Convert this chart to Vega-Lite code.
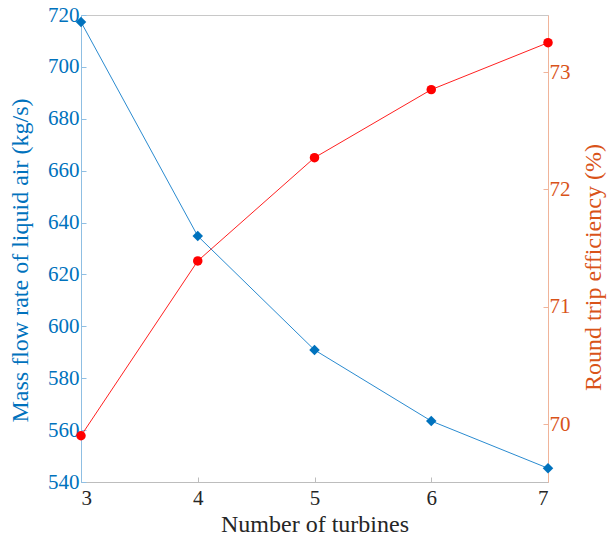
{
  "$schema": "https://vega.github.io/schema/vega-lite/v6.json",
  "width": 467,
  "height": 467,
  "autosize": "none",
  "padding": {"left": 81, "top": 15, "right": 65, "bottom": 58},
  "background": "white",
  "config": {
    "view": {"stroke": "#c8c8c8", "strokeWidth": 1},
    "font": "Liberation Serif",
    "axis": {"labelFont": "Liberation Serif", "titleFont": "Liberation Serif", "labelFontSize": 21, "titleFontSize": 24, "titleFontWeight": "normal", "grid": false, "tickSize": -5, "labelPadding": 12, "titleBaseline": "middle", "titleAlign": "center"}
  },
  "data": {"values": [
    {"n": 3, "flow": 717.3, "eff": 69.9},
    {"n": 4, "flow": 634.8, "eff": 71.39},
    {"n": 5, "flow": 590.9, "eff": 72.27},
    {"n": 6, "flow": 563.5, "eff": 72.85},
    {"n": 7, "flow": 545.3, "eff": 73.25}
  ]},
  "encoding": {
    "x": {"field": "n", "type": "quantitative", "scale": {"domain": [3, 7], "nice": false, "zero": false},
      "axis": {"values": [3, 4, 5, 6, 7], "title": "Number of turbines", "labelColor": "#262626", "titleColor": "#262626", "domainColor": "#bdbdbd", "tickColor": "#bdbdbd", "titleX": 233.5, "titleY": 42, "labelPadding": 10}}
  },
  "layer": [
    {
      "layer": [
        {"mark": {"type": "line", "color": "#2a8bd0", "strokeWidth": 1}},
        {"mark": {"type": "point", "shape": "diamond", "filled": true, "opacity": 1, "color": "#0072BD", "size": 110}}
      ],
      "encoding": {
        "y": {"field": "flow", "type": "quantitative", "scale": {"domain": [540, 720], "nice": false, "zero": false},
          "axis": {"orient": "left", "values": [540, 560, 580, 600, 620, 640, 660, 680, 700, 720], "title": "Mass flow rate of liquid air (kg/s)", "labelColor": "#0072BD", "titleColor": "#0072BD", "domainColor": "#8fbfe3", "tickColor": "#8fbfe3", "labelPadding": 7, "titleX": -61, "titleY": 245, "titleAngle": 270}}
      }
    },
    {
      "layer": [
        {"mark": {"type": "line", "color": "#ff2020", "strokeWidth": 1}},
        {"mark": {"type": "point", "shape": "circle", "filled": true, "opacity": 1, "color": "#ff0000", "size": 90}}
      ],
      "encoding": {
        "y": {"field": "eff", "type": "quantitative", "scale": {"domain": [69.506, 73.486], "nice": false, "zero": false},
          "axis": {"orient": "right", "values": [70, 71, 72, 73], "title": "Round trip efficiency (%)", "titleAngle": 270, "labelColor": "#D95319", "titleColor": "#D95319", "domainColor": "#f0b49a", "tickColor": "#f0b49a", "labelPadding": 6, "titleX": 45, "titleY": 252}}
      }
    }
  ],
  "resolve": {"scale": {"y": "independent"}}
}
